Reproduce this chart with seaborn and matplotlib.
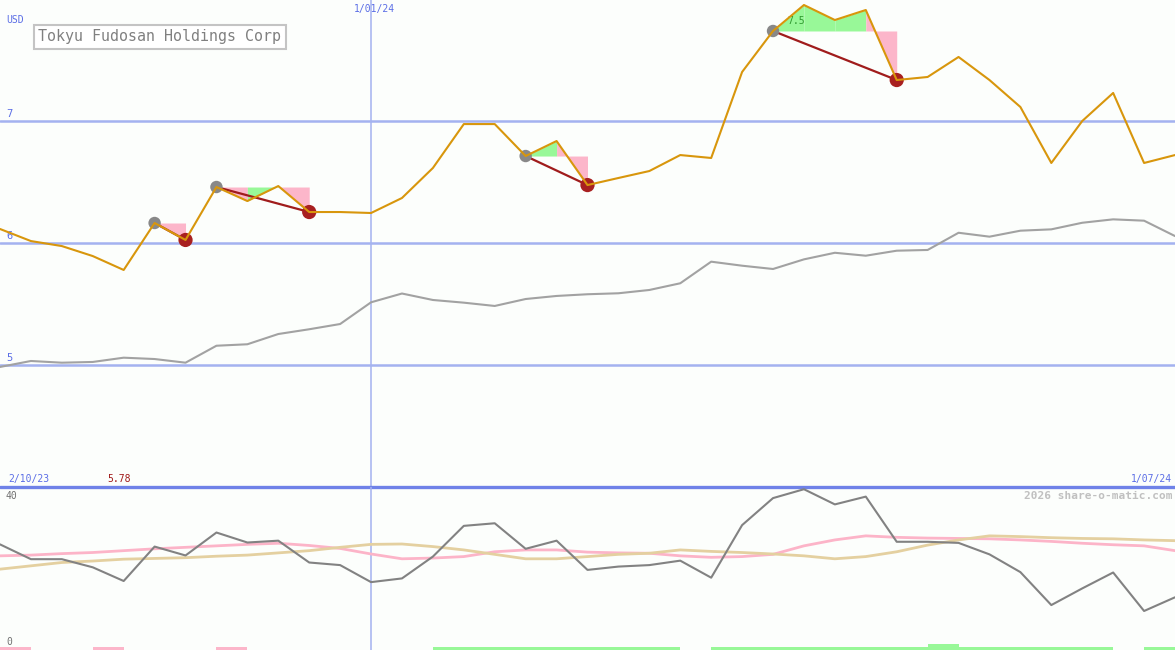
import matplotlib
matplotlib.use('Agg')
import pandas as pd
import matplotlib.pyplot as plt
import seaborn as sns

sns.set_theme(style="white")
plt.rcParams['font.family'] = ['DejaVu Sans Mono', 'DejaVu Sans']

# Data (weekly closes)
company = 'Tokyu Fudosan Holdings Corp'
currency = 'USD'
start_label = '2/10/23'
mid_label = '1/01/24'
end_label = '1/07/24'
low_label = '5.78'
peak_label = '7.5'
credit = '2026 share-o-matic.com'

price = [6.115, 6.016, 5.975, 5.893, 5.779, 6.164, 6.025, 6.459, 6.344, 6.467,
         6.254, 6.254, 6.246, 6.369, 6.615, 6.975, 6.975, 6.713, 6.836, 6.475,
         6.533, 6.590, 6.721, 6.697, 7.402, 7.738, 7.951, 7.828, 7.910, 7.336,
         7.361, 7.525, 7.336, 7.115, 6.656, 7.000, 7.230, 6.656, 6.721]
trend = [4.984, 5.033, 5.019, 5.025, 5.060, 5.049, 5.019, 5.158, 5.170, 5.254,
         5.293, 5.336, 5.514, 5.586, 5.533, 5.511, 5.484, 5.541, 5.566, 5.580,
         5.588, 5.615, 5.670, 5.847, 5.814, 5.787, 5.866, 5.920, 5.896, 5.937,
         5.943, 6.084, 6.052, 6.101, 6.112, 6.166, 6.194, 6.183, 6.057]
osc = [28.0, 24.0, 24.0, 21.8, 18.1, 27.4, 25.0, 31.2, 28.5, 29.0,
       23.1, 22.4, 17.8, 18.8, 24.7, 33.0, 33.7, 26.8, 29.0, 21.1,
       22.0, 22.4, 23.6, 19.0, 33.2, 40.5, 42.9, 38.8, 40.9, 28.7,
       28.7, 28.4, 25.3, 20.5, 11.6, 16.1, 20.4, 10.0, 13.7]
osc_fast = [24.9, 25.1, 25.5, 25.8, 26.3, 26.8, 27.2, 27.6, 28.0, 28.3,
            27.7, 26.9, 25.4, 24.1, 24.3, 24.7, 26.0, 26.5, 26.5, 25.9,
            25.7, 25.6, 24.9, 24.5, 24.7, 25.3, 27.6, 29.2, 30.3, 29.9,
            29.7, 29.6, 29.5, 29.2, 28.8, 28.3, 27.9, 27.6, 26.3]
osc_slow = [21.3, 22.2, 23.1, 23.5, 24.0, 24.2, 24.4, 24.8, 25.1, 25.7,
            26.3, 27.2, 28.0, 28.1, 27.4, 26.5, 25.3, 24.1, 24.1, 24.7,
            25.3, 25.6, 26.5, 26.1, 25.8, 25.4, 24.9, 24.1, 24.7, 26.0,
            27.8, 29.2, 30.3, 30.1, 29.8, 29.6, 29.5, 29.2, 29.0]
# -1 sell week, 1 buy week, 2 strong buy week, 0 nothing
signal = [-1, 0, 0, -1, 0, 0, 0, -1, 0, 0,
          0, 0, 0, 0, 1, 1, 1, 1, 1, 1,
          1, 1, 0, 1, 1, 1, 1, 1, 1, 1,
          2, 1, 1, 1, 1, 1, 0, 1]
swings = [(5, 6), (7, 10), (17, 19), (25, 29)]
price_ticks = [5, 6, 7]
mid_index = 12

df = pd.DataFrame({'week': range(len(price)), 'price': price, 'trend': trend,
                   'osc': osc, 'fast': osc_fast, 'slow': osc_slow})

bg = '#fcfefc'
grid_blue = '#a4b2f0'
label_blue = '#5b6ee6'
W, H = 1175, 650


def fx(x):
    return x / W


def fy(y):
    return 1 - y / H


fig = plt.figure(figsize=(11.75, 6.5), dpi=100, facecolor=bg)
ax = fig.add_axes([0, fy(487), 1, 487 / H])
ax2 = fig.add_axes([0, 0, 1, 163 / H])
for a in (ax, ax2):
    a.set_facecolor('none')
    a.set_xticks([])
    a.set_yticks([])
    for sp in a.spines.values():
        sp.set_visible(False)
    a.set_xlim(0, len(price) - 1)
    a.axvline(mid_index, color=grid_blue, lw=1.1, zorder=1)

# upper panel
ax.set_ylim(4.0, 7.992)
for t in price_ticks:
    ax.axhline(t, color=grid_blue, lw=1.8, zorder=1)
    ax.text(0.2, t + 0.015, str(t), color=label_blue, fontsize=7.5, va='bottom', ha='left')

for s, e in swings:
    level = price[s]
    for i in range(s, e):
        c = '#98f898' if price[i + 1] >= level else '#fcb6ca'
        ax.fill_between([i, i + 1], [price[i], price[i + 1]], level, color=c, lw=0, zorder=2)
    ax.plot([s, e], [price[s], price[e]], color='#a01c1c', lw=1.6, zorder=3)

sns.lineplot(data=df, x='week', y='trend', ax=ax, color='#a2a2a2', lw=1.5, zorder=3)
starts = [s for s, e in swings]
ends = [e for s, e in swings]
sns.scatterplot(x=starts, y=[price[i] for i in starts], ax=ax, color='#888888', s=80,
                edgecolor='none', zorder=4)
sns.scatterplot(x=ends, y=[price[i] for i in ends], ax=ax, color='#a82020', s=105,
                edgecolor='none', zorder=4)
sns.lineplot(data=df, x='week', y='price', ax=ax, color='#d8960c', lw=1.5, zorder=5)
ax.text(swings[-1][0] + 0.45, 7.82, peak_label, color='#2f9a2f', fontsize=7, va='center')
ax.axhline(4.0, color='#6f82e8', lw=2.4, clip_on=False, zorder=6)
ax.set_xlabel('')
ax.set_ylabel('')

# lower panel
lo = -0.54
ax2.set_ylim(lo, 43.5)
sns.lineplot(data=df, x='week', y='fast', ax=ax2, color='#fcb4c8', lw=2, zorder=2)
sns.lineplot(data=df, x='week', y='slow', ax=ax2, color='#e4d0a0', lw=2, zorder=2)
sns.lineplot(data=df, x='week', y='osc', ax=ax2, color='#828282', lw=1.5, zorder=3)
for i, s in enumerate(signal):
    if s == 0:
        continue
    c = '#fcb6ca' if s < 0 else '#98f898'
    h = 1.62 if s == 2 else 0.81
    ax2.bar(i, h, bottom=lo, width=1, align='edge', color=c, lw=0, zorder=2)
ax2.set_xlabel('')
ax2.set_ylabel('')

# text labels
fig.text(fx(38), fy(36.5), company, color='#808080', fontsize=10.8, va='center', ha='left',
         bbox=dict(boxstyle='square,pad=0.3', fc='white', ec='#c4c4c4', lw=1.5))
fig.text(fx(6), fy(20), currency, color=label_blue, fontsize=7, va='center')
fig.text(fx(374), fy(9), mid_label, color=label_blue, fontsize=7, va='center', ha='center')
fig.text(fx(8), fy(479), start_label, color=label_blue, fontsize=7, va='center')
fig.text(fx(107), fy(479), low_label, color='#a01818', fontsize=7, va='center')
fig.text(fx(1172), fy(479), end_label, color=label_blue, fontsize=7, va='center', ha='right')
fig.text(fx(6), fy(496), '40', color='#707070', fontsize=7, va='center')
fig.text(fx(6), fy(642), '0', color='#707070', fontsize=7, va='center')
fig.text(fx(1172), fy(496), credit, color='#c0c0c0', fontsize=8, fontweight='bold',
         va='center', ha='right')

fig.savefig('out.png', dpi=100, facecolor=bg)
